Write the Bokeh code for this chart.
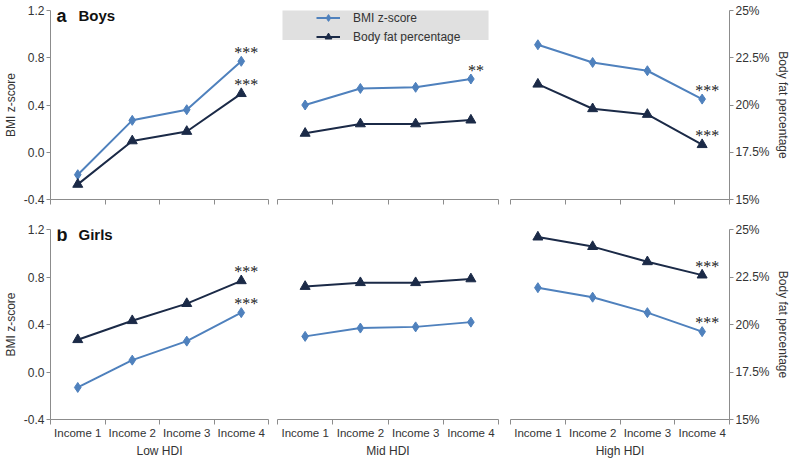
from bokeh.plotting import figure
from bokeh.layouts import gridplot
from bokeh.models import (Range1d, LinearAxis, FixedTicker, NumeralTickFormatter,
                          CustomJSTickFormatter, Legend, LegendItem, BoxAnnotation, Label)
from bokeh.embed import file_html
from bokeh.resources import INLINE

# ---------------- data ----------------
groups = ["Low HDI", "Mid HDI", "High HDI"]
incomes = ["Income 1", "Income 2", "Income 3", "Income 4"]
panels = ["Boys", "Girls"]
panel_letters = ["a", "b"]

boys_bmi = [[-0.19, 0.27, 0.36, 0.77], [0.40, 0.54, 0.55, 0.62], [0.91, 0.76, 0.69, 0.45]]
boys_fat = [[15.8, 18.1, 18.6, 20.6], [18.5, 19.0, 19.0, 19.2], [21.1, 19.8, 19.5, 17.9]]
girls_bmi = [[-0.13, 0.10, 0.26, 0.50], [0.30, 0.37, 0.38, 0.42], [0.71, 0.63, 0.50, 0.34]]
girls_fat = [[19.2, 20.2, 21.1, 22.3], [22.0, 22.2, 22.2, 22.4], [24.6, 24.1, 23.3, 22.6]]

boys_bmi_sig = ["***", "**", "***"]
boys_fat_sig = ["***", "", "***"]
girls_bmi_sig = ["***", "", "***"]
girls_fat_sig = ["***", "", "***"]

bmi_ticks = [-0.4, 0.0, 0.4, 0.8, 1.2]
fat_ticks = [15, 17.5, 20, 22.5, 25]

# ---------------- style ----------------
FONT = "Liberation Sans"
BLUE = "#4f81bd"
NAVY = "#1b2a47"
AXIS = "#8c8c8c"
TXT = "#333333"

col_w = [272, 231, 289]
b_left = [50, 5, 7]
b_right = [4, 5, 61]
row_h = [208, 253]
b_top = [10, 21]
b_bot = [9, 42]

bmi_data = [boys_bmi, girls_bmi]
fat_data = [boys_fat, girls_fat]
bmi_sig = [boys_bmi_sig, girls_bmi_sig]
fat_sig = [boys_fat_sig, girls_fat_sig]

xs = list(range(1, len(incomes) + 1))
bounds = [x - 0.5 for x in xs] + [xs[-1] + 0.5]

rows = []
for r in range(2):
    row = []
    for c in range(3):
        p = figure(width=col_w[c], height=row_h[r],
                   x_range=Range1d(bounds[0], bounds[-1]),
                   y_range=Range1d(bmi_ticks[0], bmi_ticks[-1]),
                   x_axis_location=None,
                   y_axis_location="left" if c == 0 else None,
                   output_backend="svg", toolbar_location=None,
                   min_border_left=b_left[c], min_border_right=b_right[c],
                   min_border_top=b_top[r], min_border_bottom=b_bot[r])
        p.extra_y_ranges = {"fat": Range1d(fat_ticks[0], fat_ticks[-1])}
        p.outline_line_color = None
        p.grid.visible = False
        p.background_fill_color = "white"
        p.border_fill_color = "white"

        # x axis (one per HDI group)
        if r == 0:
            xa = LinearAxis(ticker=FixedTicker(ticks=[], minor_ticks=bounds))
        else:
            xa = LinearAxis(ticker=FixedTicker(ticks=xs, minor_ticks=bounds))
            xa.major_label_overrides = {x: lab for x, lab in zip(xs, incomes)}
            xa.major_label_text_font = FONT
            xa.major_label_text_color = TXT
            xa.major_label_text_font_size = "11.5px"
            xa.major_label_standoff = 2
            xa.axis_label = groups[c]
            xa.axis_label_text_font = FONT
            xa.axis_label_text_font_size = "12px"
            xa.axis_label_text_font_style = "normal"
            xa.axis_label_text_color = TXT
            xa.axis_label_standoff = 2
        xa.major_tick_out = 0
        xa.major_tick_in = 0
        xa.minor_tick_out = 5
        xa.minor_tick_in = 0
        xa.axis_line_color = AXIS
        xa.minor_tick_line_color = AXIS
        p.add_layout(xa, "below")

        if c == 0:
            ya = p.yaxis[0]
            ya.ticker = FixedTicker(ticks=bmi_ticks)
            ya.formatter = NumeralTickFormatter(format="0.0")
            ya.axis_label = "BMI z-score"
        if c == 2:
            ya = LinearAxis(y_range_name="fat", ticker=FixedTicker(ticks=fat_ticks),
                            formatter=CustomJSTickFormatter(code="return tick + '%';"),
                            axis_label="Body fat percentage")
            p.add_layout(ya, "right")
        if c in (0, 2):
            ya.major_tick_out = 4
            ya.major_tick_in = 0
            ya.minor_tick_out = 0
            ya.minor_tick_in = 0
            ya.axis_line_color = AXIS
            ya.major_tick_line_color = AXIS
            ya.major_label_text_font = FONT
            ya.major_label_text_font_size = "12px"
            ya.major_label_text_color = TXT
            ya.major_label_standoff = 2
            ya.axis_label_text_font = FONT
            ya.axis_label_text_font_size = "12px"
            ya.axis_label_text_font_style = "normal"
            ya.axis_label_text_color = TXT
            ya.axis_label_standoff = 3

        bmi = bmi_data[r][c]
        fat = fat_data[r][c]
        lb = p.line(xs, bmi, line_color=BLUE, line_width=2)
        sb = p.scatter(xs, bmi, marker="diamond", size=10, fill_color=BLUE, line_color=BLUE)
        lf = p.line(xs, fat, y_range_name="fat", line_color=NAVY, line_width=2)
        sf = p.scatter(xs, fat, y_range_name="fat", marker="triangle", size=10,
                       fill_color=NAVY, line_color=NAVY)

        star_style = dict(x_offset=5, y_offset=-9, text_align="center", text_baseline="middle",
                          text_font_size="16px", text_color="#1a1a1a", text_font=FONT)
        if bmi_sig[r][c]:
            p.text(x=[xs[-1]], y=[bmi[-1]], text=[bmi_sig[r][c]], **star_style)
        if fat_sig[r][c]:
            p.text(x=[xs[-1]], y=[fat[-1]], text=[fat_sig[r][c]], y_range_name="fat",
                   **star_style)

        if c == 0:
            p.add_layout(Label(x=bounds[0], y=bmi_ticks[-1], x_offset=6, y_offset=-5,
                               text=panel_letters[r], text_font=FONT, text_font_size="18px",
                               text_font_style="bold", text_baseline="middle",
                               text_color="#111111"))
            p.add_layout(Label(x=bounds[0], y=bmi_ticks[-1], x_offset=28, y_offset=-5,
                               text=panels[r], text_font=FONT, text_font_size="15px",
                               text_font_style="bold", text_baseline="middle",
                               text_color="#111111"))

        if r == 0 and c == 1:
            p.add_layout(BoxAnnotation(left=bounds[0] + 0.09, right=bounds[-1] - 0.18,
                                       top=bmi_ticks[-1] + 0.1, bottom=bmi_ticks[-1] - 0.25,
                                       fill_color="#e0e0e0", fill_alpha=1.0,
                                       line_color=None, level="underlay"))
            leg = Legend(items=[LegendItem(label="BMI z-score", renderers=[lb, sb]),
                                LegendItem(label="Body fat percentage", renderers=[lf, sf])],
                         location=(38, 153), background_fill_alpha=0, border_line_alpha=0,
                         glyph_width=24, glyph_height=17, label_height=17, spacing=2,
                         padding=1, margin=0, label_standoff=13,
                         label_text_font=FONT, label_text_font_size="12px",
                         label_text_color=TXT)
            p.add_layout(leg)
        row.append(p)
    rows.append(row)

grid = gridplot(rows, toolbar_location=None)

open("out.html", "w").write(file_html(grid, INLINE))
